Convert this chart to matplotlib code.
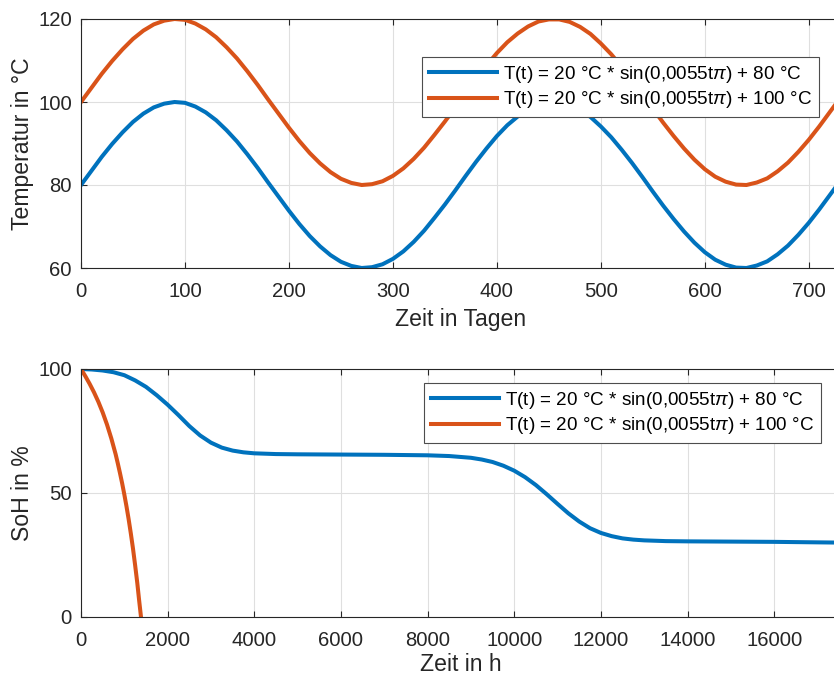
import matplotlib
matplotlib.use('Agg')
import matplotlib.pyplot as plt

# Schrift wie im MATLAB-Original (Arial-kompatibel)
plt.rcParams['font.family'] = ['Liberation Sans', 'DejaVu Sans']
plt.rcParams['mathtext.fontset'] = 'custom'
plt.rcParams['mathtext.it'] = 'Liberation Sans:italic'
plt.rcParams['mathtext.rm'] = 'Liberation Sans'

# Temperaturverlauf, Zeit in Tagen
tage = [0, 10, 20, 30, 40, 50, 60, 70, 80, 90, 100, 110, 120, 130, 140, 150,
        160, 170, 180, 190, 200, 210, 220, 230, 240, 250, 260, 270, 280, 290,
        300, 310, 320, 330, 340, 350, 360, 370, 380, 390, 400, 410, 420, 430,
        440, 450, 460, 470, 480, 490, 500, 510, 520, 530, 540, 550, 560, 570,
        580, 590, 600, 610, 620, 630, 640, 650, 660, 670, 680, 690, 700, 710,
        720, 730]
temp_80 = [80.0, 83.4, 86.8, 89.9, 92.7, 95.2, 97.2, 98.7, 99.6, 100.0, 99.8,
           98.9, 97.5, 95.6, 93.2, 90.5, 87.4, 84.1, 80.6, 77.2, 73.8, 70.6,
           67.7, 65.2, 63.1, 61.5, 60.5, 60.0, 60.2, 60.9, 62.2, 64.0, 66.3,
           69.0, 72.1, 75.3, 78.7, 82.2, 85.6, 88.8, 91.8, 94.4, 96.5, 98.2,
           99.4, 99.9, 99.9, 99.3, 98.1, 96.4, 94.1, 91.5, 88.5, 85.3, 81.9,
           78.4, 75.0, 71.8, 68.8, 66.1, 63.8, 62.0, 60.8, 60.1, 60.0, 60.6,
           61.6, 63.3, 65.4, 68.0, 70.9, 74.1, 77.5, 80.9]
temp_100 = [100.0, 103.4, 106.8, 109.9, 112.7, 115.2, 117.2, 118.7, 119.6,
            120.0, 119.8, 118.9, 117.5, 115.6, 113.2, 110.5, 107.4, 104.1,
            100.6, 97.2, 93.8, 90.6, 87.7, 85.2, 83.1, 81.5, 80.5, 80.0, 80.2,
            80.9, 82.2, 84.0, 86.3, 89.0, 92.1, 95.3, 98.7, 102.2, 105.6,
            108.8, 111.8, 114.4, 116.5, 118.2, 119.4, 119.9, 119.9, 119.3,
            118.1, 116.4, 114.1, 111.5, 108.5, 105.3, 101.9, 98.4, 95.0, 91.8,
            88.8, 86.1, 83.8, 82.0, 80.8, 80.1, 80.0, 80.6, 81.6, 83.3, 85.4,
            88.0, 90.9, 94.1, 97.5, 100.9]

# SoH-Verlauf, Zeit in h
h_80 = [0, 250, 500, 750, 1000, 1250, 1500, 1750, 2000, 2250, 2500, 2750,
        3000, 3250, 3500, 3750, 4000, 4500, 5000, 6000, 7000, 8000, 8500,
        9000, 9250, 9500, 9750, 10000, 10250, 10500, 10750, 11000, 11250,
        11500, 11750, 12000, 12250, 12500, 12750, 13000, 13500, 14000, 15000,
        16000, 17000, 17520]
soh_80 = [100.0, 99.8, 99.4, 98.7, 97.5, 95.4, 92.8, 89.4, 85.6, 81.4, 77.0,
          73.2, 70.3, 68.3, 67.1, 66.4, 66.0, 65.7, 65.6, 65.5, 65.4, 65.2,
          64.9, 64.2, 63.5, 62.5, 61.0, 59.0, 56.4, 53.2, 49.5, 45.6, 41.8,
          38.5, 35.8, 33.9, 32.6, 31.7, 31.2, 30.9, 30.6, 30.5, 30.4, 30.3,
          30.1, 30.0]
h_100 = [0, 100, 200, 300, 400, 500, 600, 700, 800, 850, 900, 950, 1000,
         1050, 1100, 1150, 1200, 1250, 1300, 1340, 1385]
soh_100 = [100.0, 97.1, 94.0, 90.6, 86.8, 82.5, 77.6, 72.0, 65.6, 61.9, 58.0,
           53.9, 49.4, 44.6, 39.4, 33.7, 27.6, 20.8, 13.6, 7.0, 0.0]

labels = [r'T(t) = 20 °C * sin(0,0055t$\mathit{\pi}$) + 80 °C',
          r'T(t) = 20 °C * sin(0,0055t$\mathit{\pi}$) + 100 °C']
farben = ['#0072BD', '#D95319']
dunkel = '#262626'

fig = plt.figure(figsize=(8.34, 6.78), dpi=100)
ax1 = fig.add_axes([81 / 834, 1 - 268 / 678, 759 / 834, 249 / 678])
ax2 = fig.add_axes([81 / 834, 1 - 617 / 678, 759 / 834, 248 / 678])

ax1.plot(tage, temp_80, color=farben[0], lw=2.9, label=labels[0])
ax1.plot(tage, temp_100, color=farben[1], lw=2.9, label=labels[1])
ax1.set_xlim(0, 730)
ax1.set_ylim(60, 120)
ax1.set_xticks([0, 100, 200, 300, 400, 500, 600, 700])
ax1.set_yticks([60, 80, 100, 120])
ax1.set_xlabel('Zeit in Tagen')
ax1.set_ylabel('Temperatur in °C')

ax2.plot(h_80, soh_80, color=farben[0], lw=2.9, label=labels[0])
ax2.plot(h_100, soh_100, color=farben[1], lw=2.9, label=labels[1])
ax2.set_xlim(0, 17520)
ax2.set_ylim(0, 100)
ax2.set_xticks(range(0, 17000, 2000))
ax2.set_yticks([0, 50, 100])
ax2.set_xlabel('Zeit in h')
ax2.set_ylabel('SoH in %')

for ax in (ax1, ax2):
    ax.grid(True, color='#dfdfdf', lw=0.8)
    ax.set_axisbelow(True)
    for s in ax.spines.values():
        s.set_color(dunkel)
        s.set_linewidth(0.8)
    ax.tick_params(direction='in', length=4, width=0.8, colors=dunkel,
                   labelsize=14.6, top=True, right=True)
    ax.tick_params(axis='x', pad=10)
    ax.tick_params(axis='y', pad=6.5)
    ax.xaxis.label.set_size(16.6)
    ax.yaxis.label.set_size(16.6)
    ax.xaxis.label.set_color(dunkel)
    ax.yaxis.label.set_color(dunkel)
    ax.xaxis.labelpad = 5
    ax.yaxis.labelpad = 3

# unten etwas knapper, damit die Beschriftung im Bild bleibt
ax2.xaxis.labelpad = 2.5

leg_opts = dict(loc='upper left', fontsize=13.6, handlelength=3.6,
                handletextpad=0.35, labelspacing=0.25, borderpad=0.35,
                borderaxespad=0, fancybox=False, framealpha=1,
                edgecolor='#4d4d4d')
l1 = ax1.legend(bbox_to_anchor=(422 / 834, 1 - 57 / 678),
                bbox_transform=fig.transFigure, **leg_opts)
l2 = ax2.legend(bbox_to_anchor=(424 / 834, 1 - 383 / 678),
                bbox_transform=fig.transFigure, **leg_opts)
for lg in (l1, l2):
    lg.get_frame().set_linewidth(0.8)
    for t in lg.get_texts():
        t.set_color('black')

fig.savefig('out.png', dpi=100)
